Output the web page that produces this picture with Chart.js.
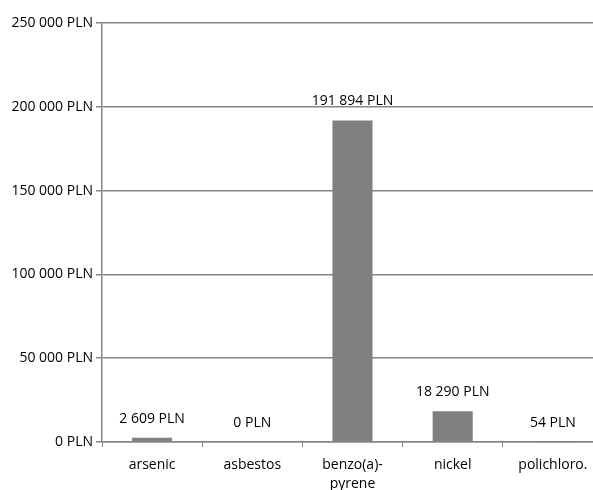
<!DOCTYPE html>
<html>
<head>
<meta charset="utf-8">
<script src="https://cdn.jsdelivr.net/npm/chart.js@4/dist/chart.umd.min.js"></script>
<style>
  html, body { margin: 0; padding: 0; background: #fff; overflow: hidden; }
  #wrap { width: 603px; height: 490px; }
</style>
</head>
<body>
<div id="wrap"><canvas id="c" width="603" height="490"></canvas></div>
<script>
// Costs by pollutant, in PLN
const categories = ['arsenic', 'asbestos', ['benzo(a)-', 'pyrene'], 'nickel', 'polichloro.'];
const costs = [2609, 0, 191894, 18290, 54];
const yTicks = [0, 50000, 100000, 150000, 200000, 250000];

const FONT = '"Open Sans", sans-serif';
const FSIZE = 14;
const AXIS = '#868686';

function pln(v) {
  return String(Math.round(v)).replace(/\B(?=(\d{3})+(?!\d))/g, ' ') + ' PLN';
}

// Writes each bar's value above it
const valueLabels = {
  id: 'valueLabels',
  afterDatasetsDraw(chart) {
    const ctx = chart.ctx;
    const meta = chart.getDatasetMeta(0);
    ctx.save();
    ctx.font = FSIZE + 'px ' + FONT;
    ctx.fillStyle = '#000';
    ctx.textAlign = 'center';
    ctx.textBaseline = 'middle';
    meta.data.forEach((bar, i) => {
      ctx.fillText(pln(costs[i]), bar.x, bar.y - 19);
    });
    ctx.restore();
  }
};

new Chart(document.getElementById('c'), {
  type: 'bar',
  data: {
    labels: categories,
    datasets: [{
      data: costs,
      backgroundColor: '#808080',
      borderWidth: 0,
      barPercentage: 0.4,
      categoryPercentage: 1.0
    }]
  },
  options: {
    responsive: false,
    animation: false,
    layout: { padding: { top: 23, right: 0, left: 0, bottom: 0 } },
    plugins: { legend: { display: false }, tooltip: { enabled: false } },
    scales: {
      x: {
        offset: true,
        grid: { offset: true, drawOnChartArea: false, drawTicks: true, tickLength: 5, color: AXIS, lineWidth: 1 },
        border: { color: AXIS, width: 1.5 },
        ticks: { color: '#000', font: { family: FONT, size: FSIZE, lineHeight: 1.4 }, padding: 8, maxRotation: 0, autoSkip: false },
        afterFit(s) { s.height = 48; }
      },
      y: {
        min: 0,
        max: 250000,
        afterBuildTicks(s) { s.ticks = yTicks.map(v => ({ value: v })); },
        grid: { color: AXIS, lineWidth: 1.5, tickLength: 6 },
        border: { color: AXIS, width: 1.5 },
        ticks: { color: '#000', font: { family: FONT, size: FSIZE }, padding: 3, callback: v => pln(v) },
        afterFit(s) { s.width = 102; }
      }
    }
  },
  plugins: [valueLabels]
});
</script>
</body>
</html>
